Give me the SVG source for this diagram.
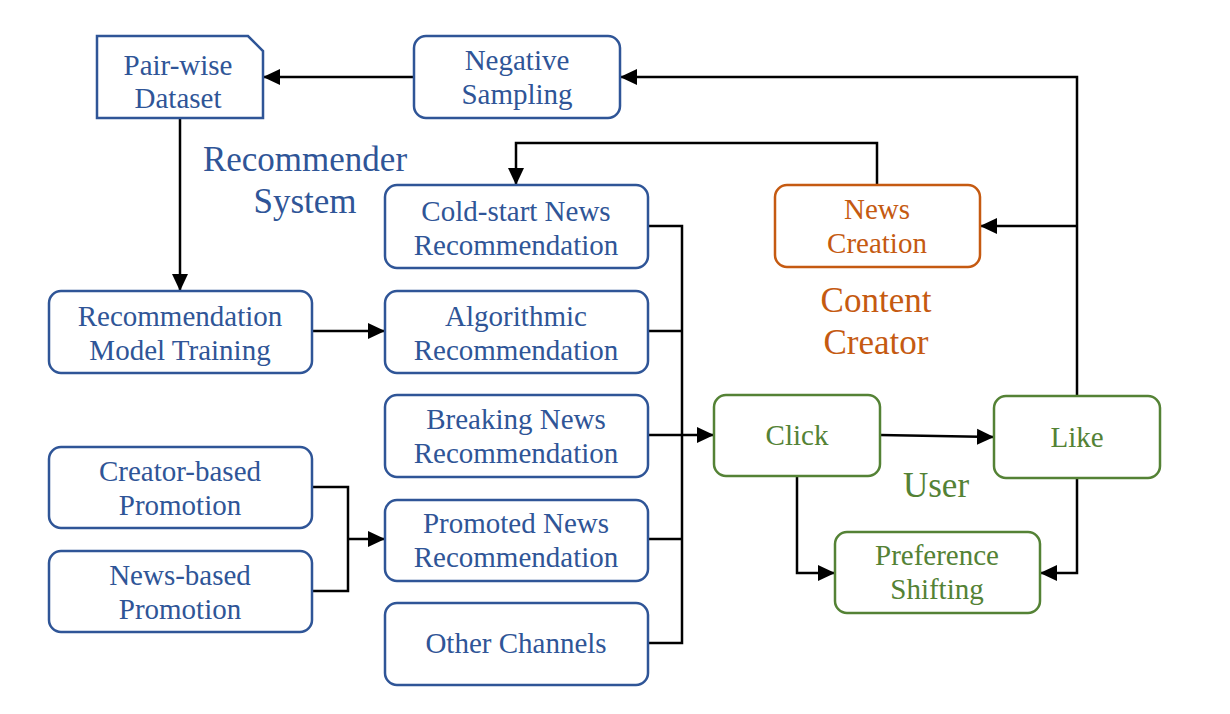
<svg xmlns="http://www.w3.org/2000/svg" width="1230" height="714" viewBox="0 0 1230 714">
<defs>
<marker id="arr" markerUnits="userSpaceOnUse" markerWidth="20" markerHeight="20" refX="17" refY="9" orient="auto">
<path d="M0,1 L17,9 L0,17 Z" fill="#000"/>
</marker>
<style>
.b rect,.b path{fill:#fff;stroke:#2F5597;stroke-width:2.5}
.o rect{fill:#fff;stroke:#C55A11;stroke-width:2.5}
.g rect{fill:#fff;stroke:#548235;stroke-width:2.5}
text{font-family:"Liberation Serif","Times New Roman",serif;font-size:29px;text-anchor:middle}
.b text{fill:#2F5597}
.o text{fill:#C55A11}
.g text{fill:#548235}
.lbl{font-size:35px}
#conn path{fill:none;stroke:#000;stroke-width:2.5}
</style>
</defs>
<rect width="1230" height="714" fill="#fff"/>
<g id="conn">
<path d="M414,77 H263" marker-end="url(#arr)"/>
<path d="M1077,396 V77 H620" marker-end="url(#arr)"/>
<path d="M1077,226 H980" marker-end="url(#arr)"/>
<path d="M180,118 V291" marker-end="url(#arr)"/>
<path d="M877,185 V143 H516 V185" marker-end="url(#arr)"/>
<path d="M312,331 H385" marker-end="url(#arr)"/>
<path d="M312,487 H348 V591 H312"/>
<path d="M348,539 H385" marker-end="url(#arr)"/>
<path d="M648,226 H682 V643 H648"/>
<path d="M648,331 H682"/>
<path d="M648,539 H682"/>
<path d="M648,435 H714" marker-end="url(#arr)"/>
<path d="M880,435 L994,437" marker-end="url(#arr)"/>
<path d="M797,476 V573 H835" marker-end="url(#arr)"/>
<path d="M1077,478 V573 H1040" marker-end="url(#arr)"/>
</g>
<g id="pairwise" class="b"><path d="M97,36 H248 L263,51 V118 H97 Z"/><text x="178" y="75">Pair-wise</text><text x="178" y="108">Dataset</text></g>
<g id="negsampling" class="b"><rect x="414" y="36" width="206" height="82" rx="12"/><text x="517" y="70">Negative</text><text x="517" y="104">Sampling</text></g>
<g id="recsys" class="b"><text class="lbl" x="305" y="171">Recommender</text><text class="lbl" x="305" y="213">System</text></g>
<g id="coldstart" class="b"><rect x="385" y="185" width="263" height="83" rx="12"/><text x="516" y="221">Cold-start News</text><text x="516" y="255">Recommendation</text></g>
<g id="newscreation" class="o"><rect x="775" y="185" width="205" height="82" rx="12"/><text x="877" y="219">News</text><text x="877" y="253">Creation</text></g>
<g id="contentcreator" class="o"><text class="lbl" x="876" y="312">Content</text><text class="lbl" x="876" y="354">Creator</text></g>
<g id="rmt" class="b"><rect x="49" y="291" width="263" height="82" rx="12"/><text x="180" y="326">Recommendation</text><text x="180" y="360">Model Training</text></g>
<g id="algo" class="b"><rect x="385" y="291" width="263" height="82" rx="12"/><text x="516" y="326">Algorithmic</text><text x="516" y="360">Recommendation</text></g>
<g id="breaking" class="b"><rect x="385" y="395" width="263" height="82" rx="12"/><text x="516" y="429">Breaking News</text><text x="516" y="463">Recommendation</text></g>
<g id="creatorpromo" class="b"><rect x="49" y="447" width="263" height="81" rx="12"/><text x="180" y="481">Creator-based</text><text x="180" y="515">Promotion</text></g>
<g id="promoted" class="b"><rect x="385" y="500" width="263" height="81" rx="12"/><text x="516" y="533">Promoted News</text><text x="516" y="567">Recommendation</text></g>
<g id="newspromo" class="b"><rect x="49" y="551" width="263" height="81" rx="12"/><text x="180" y="585">News-based</text><text x="180" y="619">Promotion</text></g>
<g id="other" class="b"><rect x="385" y="603" width="263" height="82" rx="12"/><text x="516" y="653">Other Channels</text></g>
<g id="click" class="g"><rect x="714" y="395" width="166" height="81" rx="12"/><text x="797" y="445">Click</text></g>
<g id="like" class="g"><rect x="994" y="396" width="166" height="82" rx="12"/><text x="1077" y="447">Like</text></g>
<g id="user" class="g"><text class="lbl" x="936" y="497">User</text></g>
<g id="pref" class="g"><rect x="835" y="532" width="205" height="81" rx="12"/><text x="937" y="565">Preference</text><text x="937" y="599">Shifting</text></g>
</svg>
